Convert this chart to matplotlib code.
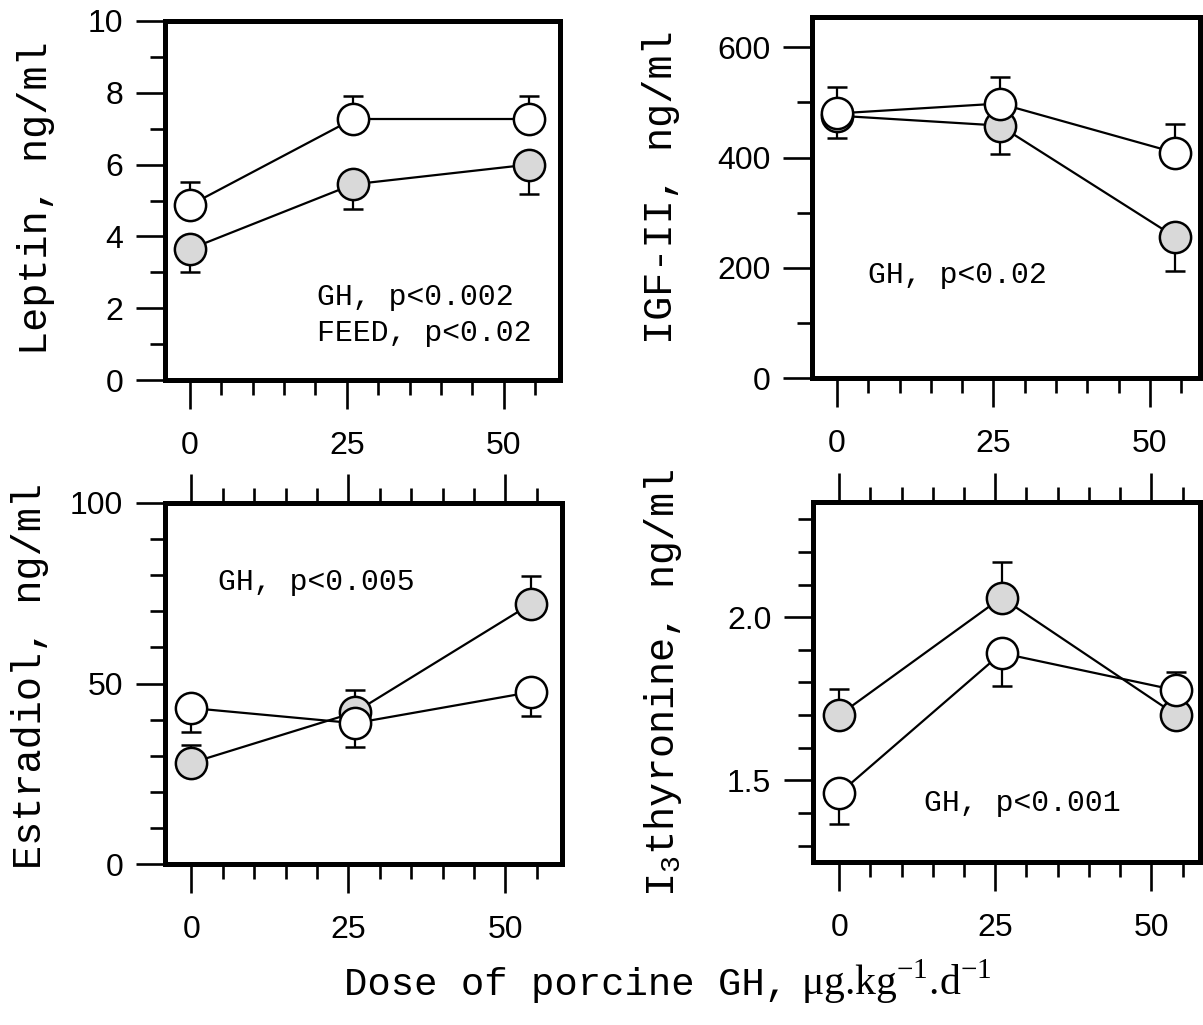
import matplotlib
matplotlib.use("Agg")
import matplotlib.pyplot as plt
from matplotlib.ticker import FixedLocator

# --- datos ---
dose = [0, 26, 54]

leptin_open = [4.87, 7.27, 7.27]
leptin_open_lo = [0, 0, 0]
leptin_open_hi = [0.65, 0.63, 0.63]
leptin_grey = [3.65, 5.45, 6.0]
leptin_grey_lo = [0.63, 0.7, 0.83]
leptin_grey_hi = [0, 0, 0]

igf2_open = [480, 498, 409]
igf2_open_lo = [0, 0, 0]
igf2_open_hi = [48, 48, 52]
igf2_grey = [476, 458, 256]
igf2_grey_lo = [40, 51, 61]
igf2_grey_hi = [0, 0, 0]

estradiol_open = [43.2, 39.0, 47.6]
estradiol_open_lo = [6.6, 6.6, 6.6]
estradiol_open_hi = [0, 0, 0]
estradiol_grey = [28.0, 42.0, 72.0]
estradiol_grey_lo = [0, 0, 0]
estradiol_grey_hi = [5.0, 6.2, 7.8]

t3_open = [1.46, 1.89, 1.776]
t3_open_lo = [0.095, 0.10, 0]
t3_open_hi = [0, 0, 0.055]
t3_grey = [1.70, 2.06, 1.70]
t3_grey_lo = [0, 0, 0.027]
t3_grey_hi = [0.08, 0.11, 0]

x_major = [0, 25, 50]
x_minor = [5, 10, 15, 20, 30, 35, 40, 45, 55]

W, H = 1203, 1025
MONO = "Liberation Mono"
SANS = "Liberation Sans"
SERIF = "Liberation Serif"

plt.rcParams["font.family"] = SANS

fig = plt.figure(figsize=(W / 100, H / 100), dpi=100)


def px_rect(x0, y0, x1, y1):
    return [x0 / W, 1 - y1 / H, (x1 - x0) / W, (y1 - y0) / H]


def panel(rect, xlim, ylim, ymaj, ymin, series, top_ticks=False):
    ax = fig.add_axes(rect)
    ax.set_xlim(*xlim)
    ax.set_ylim(*ylim)
    for s in ax.spines.values():
        s.set_linewidth(3.6)
    ax.xaxis.set_major_locator(FixedLocator(x_major))
    ax.xaxis.set_minor_locator(FixedLocator(x_minor))
    ax.yaxis.set_major_locator(FixedLocator(ymaj))
    ax.yaxis.set_minor_locator(FixedLocator(ymin))
    ax.tick_params(which="both", direction="out", width=1.9, colors="black",
                   top=top_ticks, right=False, labeltop=False, labelsize=23)
    ax.tick_params(which="major", length=21)
    ax.tick_params(which="minor", length=11)
    ax.tick_params(axis="x", which="major", pad=16)
    ax.tick_params(axis="y", which="major", pad=9)
    z = 2
    for y, lo, hi, face in series:
        ax.errorbar(dose, y, yerr=[lo, hi], fmt="none", ecolor="black",
                    elinewidth=1.6, capsize=7, capthick=1.8, zorder=z)
        ax.plot(dose, y, "-o", color="black", lw=1.6, ms=22.5, mew=1.8,
                mfc=face, mec="black", zorder=z + 1, clip_on=False)
        z += 2
    return ax


GREY = "#d9d9d9"

ax1 = panel(px_rect(165, 21, 560, 380), (-4, 59), (0, 10),
            [0, 2, 4, 6, 8, 10], [1, 3, 5, 7, 9],
            [(leptin_grey, leptin_grey_lo, leptin_grey_hi, GREY),
             (leptin_open, leptin_open_lo, leptin_open_hi, "white")])
ax1.set_yticklabels(["0", "2", "4", "6", "8", "10"])

ax2 = panel(px_rect(812, 17, 1200, 378), (-4, 58), (0, 655),
            [0, 200, 400, 600], [100, 300, 500],
            [(igf2_grey, igf2_grey_lo, igf2_grey_hi, GREY),
             (igf2_open, igf2_open_lo, igf2_open_hi, "white")])

ax3 = panel(px_rect(165, 503, 562, 864), (-4.2, 59), (0, 100),
            [0, 50, 100], [10, 20, 30, 40, 60, 70, 80, 90],
            [(estradiol_grey, estradiol_grey_lo, estradiol_grey_hi, GREY),
             (estradiol_open, estradiol_open_lo, estradiol_open_hi, "white")],
            top_ticks=True)

ax4 = panel(px_rect(813, 502, 1200, 862), (-4.2, 57.8), (1.25, 2.353),
            [1.5, 2.0], [1.3, 1.4, 1.6, 1.7, 1.8, 1.9, 2.1, 2.2, 2.3],
            [(t3_grey, t3_grey_lo, t3_grey_hi, GREY),
             (t3_open, t3_open_lo, t3_open_hi, "white")],
            top_ticks=True)
ax4.set_yticklabels(["1.5", "2.0"])


def ftext(x, y, s, **kw):
    fig.text(x / W, 1 - y / H, s, **kw)


# etiquetas de eje y
ylab = dict(rotation=90, ha="center", va="center", family=MONO, fontsize=29)
ftext(36, 198, "Leptin, ng/ml", **ylab)
ftext(661, 187, "IGF-II, ng/ml", **ylab)
ftext(30, 676, "Estradiol, ng/ml", **ylab)
ftext(663, 683, r"I$_\mathregular{3}$thyronine, ng/ml", **ylab)

# anotaciones de significancia
ann = dict(ha="left", va="center", family=MONO, fontsize=21.5)
ftext(317, 297, "GH, p<0.002", **ann)
ftext(317, 333, "FEED, p<0.02", **ann)
ftext(868, 275, "GH, p<0.02", **ann)
ftext(218, 582, "GH, p<0.005", **ann)
ftext(924, 803, "GH, p<0.001", **ann)

# etiqueta de eje x
ftext(788, 995, "Dose of porcine GH,", ha="right", va="baseline",
      family=MONO, fontsize=28)
ftext(801, 995, r"μg.kg$^\mathregular{-1}$.d$^\mathregular{-1}$",
      ha="left", va="baseline", family=SERIF, fontsize=30)

fig.savefig("out.png", dpi=100)
